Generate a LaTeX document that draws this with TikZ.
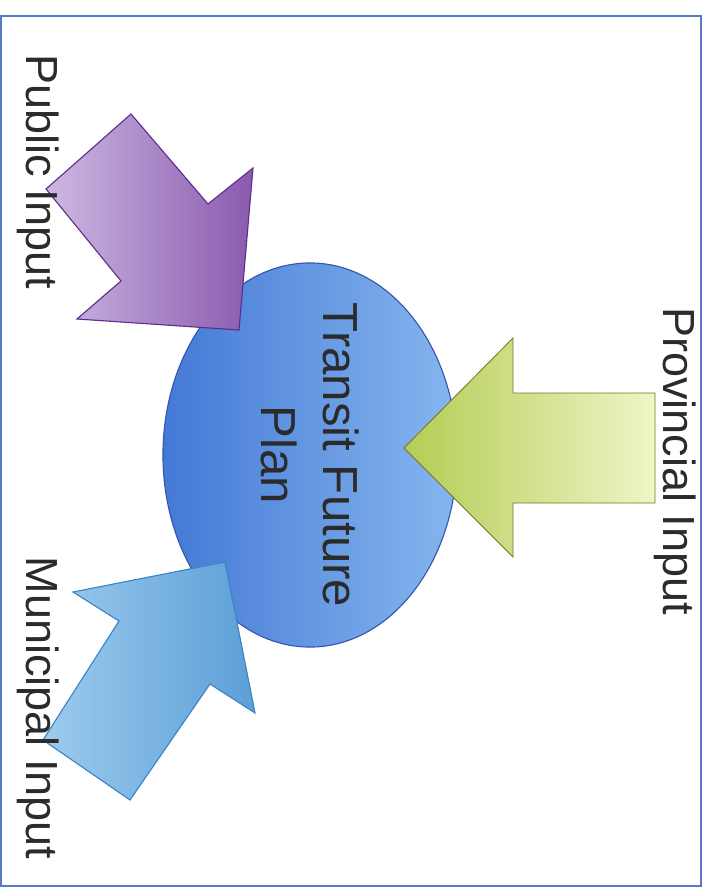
\documentclass[tikz,border=0pt]{standalone}
\usepackage{fontspec}
\setmainfont{Liberation Sans}
\usetikzlibrary{shapes.geometric}

\definecolor{framecol}{HTML}{5A78C8}
\definecolor{inktext}{HTML}{2B2B2B}
\definecolor{plandark}{HTML}{4479D6}
\definecolor{planlite}{HTML}{86B6EE}
\definecolor{planedge}{HTML}{3556B0}
\definecolor{purplelite}{HTML}{CDB8E2}
\definecolor{purpledark}{HTML}{8A5AAE}
\definecolor{purpleedge}{HTML}{5E2E8C}
\definecolor{skylite}{HTML}{9DCBEE}
\definecolor{skydark}{HTML}{5C9FD6}
\definecolor{skyedge}{HTML}{3A84C6}
\definecolor{greendark}{HTML}{B4CC55}
\definecolor{greenlite}{HTML}{F0F5C6}
\definecolor{greenedge}{HTML}{6C7A24}

\begin{document}
\begin{tikzpicture}[x=0.025cm,y=-0.025cm,
    inlabel/.style={text=inktext, rotate=-90, font=\fontsize{32}{38}\selectfont},
    planbody/.style={ellipse, draw=planedge, line width=0.8pt, left color=plandark, right color=planlite,
        minimum width=7.35cm, minimum height=9.6cm, inner sep=0pt},
    plantext/.style={text=inktext, rotate=-90, align=center, font=\fontsize{35}{44}\selectfont}]
    \useasboundingbox (0,0) rectangle (710,888);
    % outer frame
    \draw[framecol, line width=1.2pt] (1,16) rectangle (701,886);

    % centre ellipse
    \node[planbody] (plan) at (310,455) {};

    % Public input arrow (purple, down-right)
    \draw[purpleedge, line width=0.8pt, left color=purplelite, right color=purpledark]
        (46,189) -- (131,114) -- (208,204) -- (253,168) -- (239,330) -- (77,319) -- (121,281) -- cycle;
    % Municipal input arrow (blue, up-right)
    \draw[skyedge, line width=0.8pt, left color=skylite, right color=skydark]
        (225,562) -- (255,713) -- (210,684) -- (130,800) -- (43,740) -- (119,621) -- (73,592) -- cycle;
    % Provincial input arrow (green, left)
    \draw[greenedge, line width=0.6pt, left color=greendark, right color=greenlite]
        (404,448) -- (513,338) -- (513,393) -- (655,393) -- (655,503) -- (513,503) -- (513,557) -- cycle;

    % texts
    \node[plantext] (plantitle) at (plan.center) {Transit Future\\Plan};
    \node[inlabel] (public) at (38,172) {Public Input};
    \node[inlabel] (municipal) at (38,708) {Municipal Input};
    \node[inlabel] (provincial) at (675,461) {Provincial Input};
\end{tikzpicture}
\end{document}
